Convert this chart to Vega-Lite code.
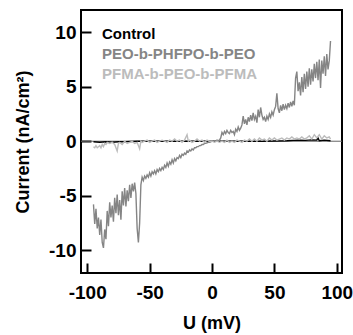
{
  "$schema": "https://vega.github.io/schema/vega-lite/v6.json",
  "width": 261,
  "height": 263,
  "autosize": {"type": "none"},
  "padding": {"left": 81, "top": 10, "right": 11, "bottom": 62},
  "background": "white",
  "config": {
    "view": {"stroke": "black", "strokeWidth": 2},
    "font": "Liberation Sans",
    "axis": {
      "domain": false,
      "grid": false,
      "tickSize": -10,
      "tickWidth": 2,
      "tickColor": "black",
      "labelFont": "Liberation Sans",
      "labelFontWeight": "bold",
      "labelFontSize": 19,
      "labelColor": "black",
      "titleFont": "Liberation Sans",
      "titleFontWeight": "bold",
      "titleFontSize": 18,
      "titleColor": "black"
    }
  },
  "datasets": {
    "iv": [
      {"series": "Control", "u": -95, "i": -0.05}, {"series": "Control", "u": -90, "i": -0.1}, {"series": "Control", "u": -85, "i": -0.05}, {"series": "Control", "u": -80, "i": -0.1}, {"series": "Control", "u": -75, "i": -0.05}, {"series": "Control", "u": -70, "i": -0.05}, {"series": "Control", "u": -60, "i": 0.0}, {"series": "Control", "u": -50, "i": 0.0}, {"series": "Control", "u": -40, "i": 0.0}, {"series": "Control", "u": -30, "i": 0.0}, {"series": "Control", "u": -20, "i": 0.0}, {"series": "Control", "u": -10, "i": 0.0}, {"series": "Control", "u": 0, "i": 0.0}, {"series": "Control", "u": 10, "i": 0.0}, {"series": "Control", "u": 20, "i": 0.0}, {"series": "Control", "u": 30, "i": 0.0}, {"series": "Control", "u": 40, "i": 0.0}, {"series": "Control", "u": 50, "i": 0.02}, {"series": "Control", "u": 60, "i": 0.05}, {"series": "Control", "u": 65, "i": 0.08}, {"series": "Control", "u": 70, "i": 0.1}, {"series": "Control", "u": 75, "i": 0.08}, {"series": "Control", "u": 80, "i": 0.12}, {"series": "Control", "u": 84, "i": 0.1}, {"series": "Control", "u": 85, "i": 0.3}, {"series": "Control", "u": 86, "i": 0.05}, {"series": "Control", "u": 90, "i": 0.1}, {"series": "Control", "u": 95, "i": 0.05},

      {"series": "PEO-b-PHFPO-b-PEO", "u": -95, "i": -5.8}, {"series": "PEO-b-PHFPO-b-PEO", "u": -94, "i": -7.6}, {"series": "PEO-b-PHFPO-b-PEO", "u": -93, "i": -6.2}, {"series": "PEO-b-PHFPO-b-PEO", "u": -92, "i": -8.0}, {"series": "PEO-b-PHFPO-b-PEO", "u": -91, "i": -7.0}, {"series": "PEO-b-PHFPO-b-PEO", "u": -90, "i": -8.6}, {"series": "PEO-b-PHFPO-b-PEO", "u": -89, "i": -7.2}, {"series": "PEO-b-PHFPO-b-PEO", "u": -88, "i": -9.3}, {"series": "PEO-b-PHFPO-b-PEO", "u": -87, "i": -9.8}, {"series": "PEO-b-PHFPO-b-PEO", "u": -86, "i": -8.1}, {"series": "PEO-b-PHFPO-b-PEO", "u": -85, "i": -9.0}, {"series": "PEO-b-PHFPO-b-PEO", "u": -84, "i": -6.4}, {"series": "PEO-b-PHFPO-b-PEO", "u": -83, "i": -7.8}, {"series": "PEO-b-PHFPO-b-PEO", "u": -82, "i": -5.6}, {"series": "PEO-b-PHFPO-b-PEO", "u": -81, "i": -7.0}, {"series": "PEO-b-PHFPO-b-PEO", "u": -80, "i": -5.9}, {"series": "PEO-b-PHFPO-b-PEO", "u": -79, "i": -7.4}, {"series": "PEO-b-PHFPO-b-PEO", "u": -78, "i": -5.2}, {"series": "PEO-b-PHFPO-b-PEO", "u": -77, "i": -6.6}, {"series": "PEO-b-PHFPO-b-PEO", "u": -76, "i": -4.9}, {"series": "PEO-b-PHFPO-b-PEO", "u": -75, "i": -6.8}, {"series": "PEO-b-PHFPO-b-PEO", "u": -74, "i": -5.4}, {"series": "PEO-b-PHFPO-b-PEO", "u": -73, "i": -7.2}, {"series": "PEO-b-PHFPO-b-PEO", "u": -72, "i": -4.6}, {"series": "PEO-b-PHFPO-b-PEO", "u": -71, "i": -5.9}, {"series": "PEO-b-PHFPO-b-PEO", "u": -70, "i": -4.3}, {"series": "PEO-b-PHFPO-b-PEO", "u": -69, "i": -6.0}, {"series": "PEO-b-PHFPO-b-PEO", "u": -68, "i": -4.5}, {"series": "PEO-b-PHFPO-b-PEO", "u": -67, "i": -5.5}, {"series": "PEO-b-PHFPO-b-PEO", "u": -66, "i": -4.0}, {"series": "PEO-b-PHFPO-b-PEO", "u": -65, "i": -5.2}, {"series": "PEO-b-PHFPO-b-PEO", "u": -64, "i": -3.9}, {"series": "PEO-b-PHFPO-b-PEO", "u": -63, "i": -4.6}, {"series": "PEO-b-PHFPO-b-PEO", "u": -62, "i": -3.8}, {"series": "PEO-b-PHFPO-b-PEO", "u": -61, "i": -4.8}, {"series": "PEO-b-PHFPO-b-PEO", "u": -60, "i": -8.0}, {"series": "PEO-b-PHFPO-b-PEO", "u": -59, "i": -9.3}, {"series": "PEO-b-PHFPO-b-PEO", "u": -58, "i": -7.5}, {"series": "PEO-b-PHFPO-b-PEO", "u": -57, "i": -4.0}, {"series": "PEO-b-PHFPO-b-PEO", "u": -56, "i": -3.3}, {"series": "PEO-b-PHFPO-b-PEO", "u": -55, "i": -3.6}, {"series": "PEO-b-PHFPO-b-PEO", "u": -54, "i": -3.2}, {"series": "PEO-b-PHFPO-b-PEO", "u": -53, "i": -3.4}, {"series": "PEO-b-PHFPO-b-PEO", "u": -52, "i": -3.1}, {"series": "PEO-b-PHFPO-b-PEO", "u": -51, "i": -3.3}, {"series": "PEO-b-PHFPO-b-PEO", "u": -50, "i": -2.9}, {"series": "PEO-b-PHFPO-b-PEO", "u": -49, "i": -3.2}, {"series": "PEO-b-PHFPO-b-PEO", "u": -48, "i": -2.8}, {"series": "PEO-b-PHFPO-b-PEO", "u": -47, "i": -3.0}, {"series": "PEO-b-PHFPO-b-PEO", "u": -46, "i": -2.7}, {"series": "PEO-b-PHFPO-b-PEO", "u": -45, "i": -3.0}, {"series": "PEO-b-PHFPO-b-PEO", "u": -44, "i": -2.6}, {"series": "PEO-b-PHFPO-b-PEO", "u": -43, "i": -2.8}, {"series": "PEO-b-PHFPO-b-PEO", "u": -42, "i": -2.5}, {"series": "PEO-b-PHFPO-b-PEO", "u": -41, "i": -2.7}, {"series": "PEO-b-PHFPO-b-PEO", "u": -40, "i": -2.4}, {"series": "PEO-b-PHFPO-b-PEO", "u": -39, "i": -2.6}, {"series": "PEO-b-PHFPO-b-PEO", "u": -38, "i": -2.2}, {"series": "PEO-b-PHFPO-b-PEO", "u": -37, "i": -2.4}, {"series": "PEO-b-PHFPO-b-PEO", "u": -36, "i": -2.0}, {"series": "PEO-b-PHFPO-b-PEO", "u": -35, "i": -2.3}, {"series": "PEO-b-PHFPO-b-PEO", "u": -34, "i": -1.9}, {"series": "PEO-b-PHFPO-b-PEO", "u": -33, "i": -2.1}, {"series": "PEO-b-PHFPO-b-PEO", "u": -32, "i": -1.7}, {"series": "PEO-b-PHFPO-b-PEO", "u": -31, "i": -2.0}, {"series": "PEO-b-PHFPO-b-PEO", "u": -30, "i": -1.6}, {"series": "PEO-b-PHFPO-b-PEO", "u": -29, "i": -1.8}, {"series": "PEO-b-PHFPO-b-PEO", "u": -28, "i": -1.5}, {"series": "PEO-b-PHFPO-b-PEO", "u": -27, "i": -1.6}, {"series": "PEO-b-PHFPO-b-PEO", "u": -26, "i": -1.3}, {"series": "PEO-b-PHFPO-b-PEO", "u": -25, "i": -1.5}, {"series": "PEO-b-PHFPO-b-PEO", "u": -24, "i": -1.2}, {"series": "PEO-b-PHFPO-b-PEO", "u": -23, "i": -1.3}, {"series": "PEO-b-PHFPO-b-PEO", "u": -22, "i": -1.1}, {"series": "PEO-b-PHFPO-b-PEO", "u": -21, "i": -1.2}, {"series": "PEO-b-PHFPO-b-PEO", "u": -20, "i": -0.9}, {"series": "PEO-b-PHFPO-b-PEO", "u": -19, "i": -1.0}, {"series": "PEO-b-PHFPO-b-PEO", "u": -18, "i": -0.8}, {"series": "PEO-b-PHFPO-b-PEO", "u": -17, "i": -0.9}, {"series": "PEO-b-PHFPO-b-PEO", "u": -16, "i": -0.7}, {"series": "PEO-b-PHFPO-b-PEO", "u": -15, "i": -0.8}, {"series": "PEO-b-PHFPO-b-PEO", "u": -14, "i": -0.6}, {"series": "PEO-b-PHFPO-b-PEO", "u": -13, "i": -0.6}, {"series": "PEO-b-PHFPO-b-PEO", "u": -12, "i": -0.5}, {"series": "PEO-b-PHFPO-b-PEO", "u": -11, "i": -0.5}, {"series": "PEO-b-PHFPO-b-PEO", "u": -10, "i": -0.4}, {"series": "PEO-b-PHFPO-b-PEO", "u": -9, "i": -0.4}, {"series": "PEO-b-PHFPO-b-PEO", "u": -8, "i": -0.3}, {"series": "PEO-b-PHFPO-b-PEO", "u": -7, "i": -0.3}, {"series": "PEO-b-PHFPO-b-PEO", "u": -6, "i": -0.2}, {"series": "PEO-b-PHFPO-b-PEO", "u": -5, "i": -0.2}, {"series": "PEO-b-PHFPO-b-PEO", "u": -4, "i": -0.15}, {"series": "PEO-b-PHFPO-b-PEO", "u": -3, "i": -0.1}, {"series": "PEO-b-PHFPO-b-PEO", "u": -2, "i": -0.1}, {"series": "PEO-b-PHFPO-b-PEO", "u": -1, "i": -0.05}, {"series": "PEO-b-PHFPO-b-PEO", "u": 0, "i": 0.0}, {"series": "PEO-b-PHFPO-b-PEO", "u": 1, "i": 0.0}, {"series": "PEO-b-PHFPO-b-PEO", "u": 2, "i": 0.05}, {"series": "PEO-b-PHFPO-b-PEO", "u": 3, "i": 0.0}, {"series": "PEO-b-PHFPO-b-PEO", "u": 4, "i": 0.1}, {"series": "PEO-b-PHFPO-b-PEO", "u": 5, "i": 0.05}, {"series": "PEO-b-PHFPO-b-PEO", "u": 6, "i": 0.1}, {"series": "PEO-b-PHFPO-b-PEO", "u": 7, "i": 0.3}, {"series": "PEO-b-PHFPO-b-PEO", "u": 8, "i": 0.8}, {"series": "PEO-b-PHFPO-b-PEO", "u": 9, "i": 0.6}, {"series": "PEO-b-PHFPO-b-PEO", "u": 10, "i": 0.9}, {"series": "PEO-b-PHFPO-b-PEO", "u": 11, "i": 0.7}, {"series": "PEO-b-PHFPO-b-PEO", "u": 12, "i": 1.0}, {"series": "PEO-b-PHFPO-b-PEO", "u": 13, "i": 0.8}, {"series": "PEO-b-PHFPO-b-PEO", "u": 14, "i": 0.7}, {"series": "PEO-b-PHFPO-b-PEO", "u": 15, "i": 1.0}, {"series": "PEO-b-PHFPO-b-PEO", "u": 16, "i": 0.8}, {"series": "PEO-b-PHFPO-b-PEO", "u": 17, "i": 0.9}, {"series": "PEO-b-PHFPO-b-PEO", "u": 18, "i": 0.6}, {"series": "PEO-b-PHFPO-b-PEO", "u": 19, "i": 1.1}, {"series": "PEO-b-PHFPO-b-PEO", "u": 20, "i": 0.9}, {"series": "PEO-b-PHFPO-b-PEO", "u": 21, "i": 1.3}, {"series": "PEO-b-PHFPO-b-PEO", "u": 22, "i": 1.0}, {"series": "PEO-b-PHFPO-b-PEO", "u": 23, "i": 1.2}, {"series": "PEO-b-PHFPO-b-PEO", "u": 24, "i": 1.5}, {"series": "PEO-b-PHFPO-b-PEO", "u": 25, "i": 2.3}, {"series": "PEO-b-PHFPO-b-PEO", "u": 26, "i": 1.6}, {"series": "PEO-b-PHFPO-b-PEO", "u": 27, "i": 2.0}, {"series": "PEO-b-PHFPO-b-PEO", "u": 28, "i": 1.5}, {"series": "PEO-b-PHFPO-b-PEO", "u": 29, "i": 2.2}, {"series": "PEO-b-PHFPO-b-PEO", "u": 30, "i": 1.8}, {"series": "PEO-b-PHFPO-b-PEO", "u": 31, "i": 2.4}, {"series": "PEO-b-PHFPO-b-PEO", "u": 32, "i": 1.9}, {"series": "PEO-b-PHFPO-b-PEO", "u": 33, "i": 2.6}, {"series": "PEO-b-PHFPO-b-PEO", "u": 34, "i": 2.0}, {"series": "PEO-b-PHFPO-b-PEO", "u": 35, "i": 2.3}, {"series": "PEO-b-PHFPO-b-PEO", "u": 36, "i": 1.7}, {"series": "PEO-b-PHFPO-b-PEO", "u": 37, "i": 2.9}, {"series": "PEO-b-PHFPO-b-PEO", "u": 38, "i": 2.2}, {"series": "PEO-b-PHFPO-b-PEO", "u": 39, "i": 3.1}, {"series": "PEO-b-PHFPO-b-PEO", "u": 40, "i": 2.4}, {"series": "PEO-b-PHFPO-b-PEO", "u": 41, "i": 2.0}, {"series": "PEO-b-PHFPO-b-PEO", "u": 42, "i": 2.2}, {"series": "PEO-b-PHFPO-b-PEO", "u": 43, "i": 1.8}, {"series": "PEO-b-PHFPO-b-PEO", "u": 44, "i": 2.3}, {"series": "PEO-b-PHFPO-b-PEO", "u": 45, "i": 2.0}, {"series": "PEO-b-PHFPO-b-PEO", "u": 46, "i": 2.5}, {"series": "PEO-b-PHFPO-b-PEO", "u": 47, "i": 2.2}, {"series": "PEO-b-PHFPO-b-PEO", "u": 48, "i": 2.7}, {"series": "PEO-b-PHFPO-b-PEO", "u": 49, "i": 2.4}, {"series": "PEO-b-PHFPO-b-PEO", "u": 50, "i": 2.9}, {"series": "PEO-b-PHFPO-b-PEO", "u": 51, "i": 3.2}, {"series": "PEO-b-PHFPO-b-PEO", "u": 52, "i": 4.4}, {"series": "PEO-b-PHFPO-b-PEO", "u": 53, "i": 3.0}, {"series": "PEO-b-PHFPO-b-PEO", "u": 54, "i": 2.6}, {"series": "PEO-b-PHFPO-b-PEO", "u": 55, "i": 3.3}, {"series": "PEO-b-PHFPO-b-PEO", "u": 56, "i": 2.8}, {"series": "PEO-b-PHFPO-b-PEO", "u": 57, "i": 3.4}, {"series": "PEO-b-PHFPO-b-PEO", "u": 58, "i": 2.9}, {"series": "PEO-b-PHFPO-b-PEO", "u": 59, "i": 3.3}, {"series": "PEO-b-PHFPO-b-PEO", "u": 60, "i": 3.0}, {"series": "PEO-b-PHFPO-b-PEO", "u": 61, "i": 3.5}, {"series": "PEO-b-PHFPO-b-PEO", "u": 62, "i": 3.1}, {"series": "PEO-b-PHFPO-b-PEO", "u": 63, "i": 3.6}, {"series": "PEO-b-PHFPO-b-PEO", "u": 64, "i": 3.2}, {"series": "PEO-b-PHFPO-b-PEO", "u": 65, "i": 3.7}, {"series": "PEO-b-PHFPO-b-PEO", "u": 66, "i": 3.3}, {"series": "PEO-b-PHFPO-b-PEO", "u": 67, "i": 5.8}, {"series": "PEO-b-PHFPO-b-PEO", "u": 68, "i": 6.4}, {"series": "PEO-b-PHFPO-b-PEO", "u": 69, "i": 4.6}, {"series": "PEO-b-PHFPO-b-PEO", "u": 70, "i": 5.4}, {"series": "PEO-b-PHFPO-b-PEO", "u": 71, "i": 4.2}, {"series": "PEO-b-PHFPO-b-PEO", "u": 72, "i": 5.9}, {"series": "PEO-b-PHFPO-b-PEO", "u": 73, "i": 4.5}, {"series": "PEO-b-PHFPO-b-PEO", "u": 74, "i": 6.2}, {"series": "PEO-b-PHFPO-b-PEO", "u": 75, "i": 4.8}, {"series": "PEO-b-PHFPO-b-PEO", "u": 76, "i": 6.4}, {"series": "PEO-b-PHFPO-b-PEO", "u": 77, "i": 5.0}, {"series": "PEO-b-PHFPO-b-PEO", "u": 78, "i": 6.7}, {"series": "PEO-b-PHFPO-b-PEO", "u": 79, "i": 5.2}, {"series": "PEO-b-PHFPO-b-PEO", "u": 80, "i": 6.6}, {"series": "PEO-b-PHFPO-b-PEO", "u": 81, "i": 5.5}, {"series": "PEO-b-PHFPO-b-PEO", "u": 82, "i": 7.1}, {"series": "PEO-b-PHFPO-b-PEO", "u": 83, "i": 5.8}, {"series": "PEO-b-PHFPO-b-PEO", "u": 84, "i": 7.3}, {"series": "PEO-b-PHFPO-b-PEO", "u": 85, "i": 5.6}, {"series": "PEO-b-PHFPO-b-PEO", "u": 86, "i": 7.5}, {"series": "PEO-b-PHFPO-b-PEO", "u": 87, "i": 4.9}, {"series": "PEO-b-PHFPO-b-PEO", "u": 88, "i": 7.4}, {"series": "PEO-b-PHFPO-b-PEO", "u": 89, "i": 6.2}, {"series": "PEO-b-PHFPO-b-PEO", "u": 90, "i": 7.8}, {"series": "PEO-b-PHFPO-b-PEO", "u": 91, "i": 6.0}, {"series": "PEO-b-PHFPO-b-PEO", "u": 92, "i": 8.0}, {"series": "PEO-b-PHFPO-b-PEO", "u": 93, "i": 6.6}, {"series": "PEO-b-PHFPO-b-PEO", "u": 94, "i": 7.4}, {"series": "PEO-b-PHFPO-b-PEO", "u": 95, "i": 9.2},

      {"series": "PFMA-b-PEO-b-PFMA", "u": -95, "i": -0.5}, {"series": "PFMA-b-PEO-b-PFMA", "u": -94, "i": -0.6}, {"series": "PFMA-b-PEO-b-PFMA", "u": -93, "i": -0.4}, {"series": "PFMA-b-PEO-b-PFMA", "u": -92, "i": -0.6}, {"series": "PFMA-b-PEO-b-PFMA", "u": -91, "i": -0.5}, {"series": "PFMA-b-PEO-b-PFMA", "u": -90, "i": -0.4}, {"series": "PFMA-b-PEO-b-PFMA", "u": -89, "i": -0.6}, {"series": "PFMA-b-PEO-b-PFMA", "u": -88, "i": -0.3}, {"series": "PFMA-b-PEO-b-PFMA", "u": -87, "i": -0.5}, {"series": "PFMA-b-PEO-b-PFMA", "u": -86, "i": -0.2}, {"series": "PFMA-b-PEO-b-PFMA", "u": -85, "i": -0.3}, {"series": "PFMA-b-PEO-b-PFMA", "u": -84, "i": -0.1}, {"series": "PFMA-b-PEO-b-PFMA", "u": -82, "i": -0.2}, {"series": "PFMA-b-PEO-b-PFMA", "u": -80, "i": -0.1}, {"series": "PFMA-b-PEO-b-PFMA", "u": -78, "i": -0.3}, {"series": "PFMA-b-PEO-b-PFMA", "u": -76, "i": -0.9}, {"series": "PFMA-b-PEO-b-PFMA", "u": -75, "i": -0.2}, {"series": "PFMA-b-PEO-b-PFMA", "u": -74, "i": -0.1}, {"series": "PFMA-b-PEO-b-PFMA", "u": -72, "i": -0.3}, {"series": "PFMA-b-PEO-b-PFMA", "u": -70, "i": 0.0}, {"series": "PFMA-b-PEO-b-PFMA", "u": -68, "i": -0.2}, {"series": "PFMA-b-PEO-b-PFMA", "u": -66, "i": -0.1}, {"series": "PFMA-b-PEO-b-PFMA", "u": -64, "i": 0.0}, {"series": "PFMA-b-PEO-b-PFMA", "u": -62, "i": -0.2}, {"series": "PFMA-b-PEO-b-PFMA", "u": -60, "i": -0.1}, {"series": "PFMA-b-PEO-b-PFMA", "u": -58, "i": -0.7}, {"series": "PFMA-b-PEO-b-PFMA", "u": -57, "i": 0.0}, {"series": "PFMA-b-PEO-b-PFMA", "u": -56, "i": -0.1}, {"series": "PFMA-b-PEO-b-PFMA", "u": -54, "i": 0.0}, {"series": "PFMA-b-PEO-b-PFMA", "u": -52, "i": 0.1}, {"series": "PFMA-b-PEO-b-PFMA", "u": -50, "i": -0.1}, {"series": "PFMA-b-PEO-b-PFMA", "u": -48, "i": 0.0}, {"series": "PFMA-b-PEO-b-PFMA", "u": -46, "i": 0.1}, {"series": "PFMA-b-PEO-b-PFMA", "u": -44, "i": -0.1}, {"series": "PFMA-b-PEO-b-PFMA", "u": -42, "i": 0.0}, {"series": "PFMA-b-PEO-b-PFMA", "u": -40, "i": 0.1}, {"series": "PFMA-b-PEO-b-PFMA", "u": -38, "i": 0.0}, {"series": "PFMA-b-PEO-b-PFMA", "u": -36, "i": -0.1}, {"series": "PFMA-b-PEO-b-PFMA", "u": -34, "i": 0.1}, {"series": "PFMA-b-PEO-b-PFMA", "u": -32, "i": 0.0}, {"series": "PFMA-b-PEO-b-PFMA", "u": -30, "i": 0.2}, {"series": "PFMA-b-PEO-b-PFMA", "u": -28, "i": 0.0}, {"series": "PFMA-b-PEO-b-PFMA", "u": -26, "i": 0.1}, {"series": "PFMA-b-PEO-b-PFMA", "u": -24, "i": -0.1}, {"series": "PFMA-b-PEO-b-PFMA", "u": -22, "i": 0.1}, {"series": "PFMA-b-PEO-b-PFMA", "u": -20, "i": 0.6}, {"series": "PFMA-b-PEO-b-PFMA", "u": -19, "i": 0.0}, {"series": "PFMA-b-PEO-b-PFMA", "u": -18, "i": 0.1}, {"series": "PFMA-b-PEO-b-PFMA", "u": -16, "i": -0.1}, {"series": "PFMA-b-PEO-b-PFMA", "u": -14, "i": 0.0}, {"series": "PFMA-b-PEO-b-PFMA", "u": -12, "i": 0.2}, {"series": "PFMA-b-PEO-b-PFMA", "u": -10, "i": 0.0}, {"series": "PFMA-b-PEO-b-PFMA", "u": -8, "i": 0.1}, {"series": "PFMA-b-PEO-b-PFMA", "u": -6, "i": -0.1}, {"series": "PFMA-b-PEO-b-PFMA", "u": -4, "i": 0.1}, {"series": "PFMA-b-PEO-b-PFMA", "u": -2, "i": 0.0}, {"series": "PFMA-b-PEO-b-PFMA", "u": 0, "i": 0.0}, {"series": "PFMA-b-PEO-b-PFMA", "u": 2, "i": -0.1}, {"series": "PFMA-b-PEO-b-PFMA", "u": 4, "i": 0.0}, {"series": "PFMA-b-PEO-b-PFMA", "u": 6, "i": -0.1}, {"series": "PFMA-b-PEO-b-PFMA", "u": 8, "i": 0.0}, {"series": "PFMA-b-PEO-b-PFMA", "u": 10, "i": -0.1}, {"series": "PFMA-b-PEO-b-PFMA", "u": 12, "i": 0.1}, {"series": "PFMA-b-PEO-b-PFMA", "u": 14, "i": -0.1}, {"series": "PFMA-b-PEO-b-PFMA", "u": 16, "i": 0.0}, {"series": "PFMA-b-PEO-b-PFMA", "u": 18, "i": -0.1}, {"series": "PFMA-b-PEO-b-PFMA", "u": 20, "i": 0.1}, {"series": "PFMA-b-PEO-b-PFMA", "u": 22, "i": 0.0}, {"series": "PFMA-b-PEO-b-PFMA", "u": 24, "i": -0.1}, {"series": "PFMA-b-PEO-b-PFMA", "u": 26, "i": 0.1}, {"series": "PFMA-b-PEO-b-PFMA", "u": 28, "i": 0.0}, {"series": "PFMA-b-PEO-b-PFMA", "u": 30, "i": 0.2}, {"series": "PFMA-b-PEO-b-PFMA", "u": 32, "i": 0.0}, {"series": "PFMA-b-PEO-b-PFMA", "u": 34, "i": 0.2}, {"series": "PFMA-b-PEO-b-PFMA", "u": 36, "i": 0.0}, {"series": "PFMA-b-PEO-b-PFMA", "u": 38, "i": 0.3}, {"series": "PFMA-b-PEO-b-PFMA", "u": 40, "i": 0.1}, {"series": "PFMA-b-PEO-b-PFMA", "u": 42, "i": 0.2}, {"series": "PFMA-b-PEO-b-PFMA", "u": 44, "i": 0.0}, {"series": "PFMA-b-PEO-b-PFMA", "u": 46, "i": 0.3}, {"series": "PFMA-b-PEO-b-PFMA", "u": 48, "i": 0.1}, {"series": "PFMA-b-PEO-b-PFMA", "u": 50, "i": 0.3}, {"series": "PFMA-b-PEO-b-PFMA", "u": 52, "i": 0.1}, {"series": "PFMA-b-PEO-b-PFMA", "u": 54, "i": 0.2}, {"series": "PFMA-b-PEO-b-PFMA", "u": 56, "i": 0.3}, {"series": "PFMA-b-PEO-b-PFMA", "u": 58, "i": 0.1}, {"series": "PFMA-b-PEO-b-PFMA", "u": 60, "i": 0.3}, {"series": "PFMA-b-PEO-b-PFMA", "u": 62, "i": 0.2}, {"series": "PFMA-b-PEO-b-PFMA", "u": 64, "i": 0.4}, {"series": "PFMA-b-PEO-b-PFMA", "u": 66, "i": 0.2}, {"series": "PFMA-b-PEO-b-PFMA", "u": 68, "i": 0.3}, {"series": "PFMA-b-PEO-b-PFMA", "u": 70, "i": 0.2}, {"series": "PFMA-b-PEO-b-PFMA", "u": 72, "i": 0.4}, {"series": "PFMA-b-PEO-b-PFMA", "u": 74, "i": 0.2}, {"series": "PFMA-b-PEO-b-PFMA", "u": 76, "i": 0.3}, {"series": "PFMA-b-PEO-b-PFMA", "u": 78, "i": 0.5}, {"series": "PFMA-b-PEO-b-PFMA", "u": 80, "i": 0.2}, {"series": "PFMA-b-PEO-b-PFMA", "u": 82, "i": 0.6}, {"series": "PFMA-b-PEO-b-PFMA", "u": 84, "i": 0.3}, {"series": "PFMA-b-PEO-b-PFMA", "u": 86, "i": 0.6}, {"series": "PFMA-b-PEO-b-PFMA", "u": 88, "i": 0.2}, {"series": "PFMA-b-PEO-b-PFMA", "u": 90, "i": 0.5}, {"series": "PFMA-b-PEO-b-PFMA", "u": 92, "i": 0.3}, {"series": "PFMA-b-PEO-b-PFMA", "u": 94, "i": 0.4}, {"series": "PFMA-b-PEO-b-PFMA", "u": 95, "i": 0.2}
    ]
  },
  "layer": [
    {
      "data": {"values": [{"level": 0}]},
      "mark": {"type": "rule", "color": "#666666", "strokeWidth": 1},
      "encoding": {"y": {"field": "level", "type": "quantitative", "scale": {"domain": [-12.1, 12.05], "nice": false, "zero": false}}}
    },
    {
      "data": {"name": "iv"},
      "mark": {"type": "line", "clip": true, "strokeWidth": 1.4, "interpolate": "linear"},
      "encoding": {
        "x": {
          "field": "u", "type": "quantitative",
          "scale": {"domain": [-105, 104.2], "nice": false, "zero": false},
          "axis": {"values": [-100, -50, 0, 50, 100], "title": "U (mV)", "labelPadding": 20, "labelExpr": "(datum.value < 0 ? '-' : '') + abs(datum.value)", "titleY": 50, "titleBaseline": "middle"}
        },
        "y": {
          "field": "i", "type": "quantitative",
          "scale": {"domain": [-12.1, 12.05], "nice": false, "zero": false},
          "axis": {"values": [-10, -5, 0, 5, 10], "title": "Current (nA/cm²)", "labelPadding": 15, "labelExpr": "(datum.value < 0 ? '-' : '') + abs(datum.value)", "titleX": -58, "titleY": 131.5, "titleBaseline": "middle", "titleAngle": -90}
        },
        "color": {
          "field": "series", "type": "nominal",
          "scale": {"domain": ["Control", "PEO-b-PHFPO-b-PEO", "PFMA-b-PEO-b-PFMA"], "range": ["#000000", "#858585", "#bcbcbc"]},
          "legend": {
            "title": null,
            "orient": "none",
            "legendX": 6,
            "legendY": 16,
            "symbolOpacity": 0,
            "symbolSize": 0,
            "symbolStrokeWidth": 0,
            "labelOffset": 0,
            "labelFont": "Liberation Sans",
            "labelFontWeight": "bold",
            "labelFontSize": 15,
            "labelLimit": 300,
            "rowPadding": 4,
            "padding": 0,
            "encode": {"labels": {"update": {"fill": {"scale": "color", "field": "value"}}}}
          }
        }
      }
    }
  ]
}
